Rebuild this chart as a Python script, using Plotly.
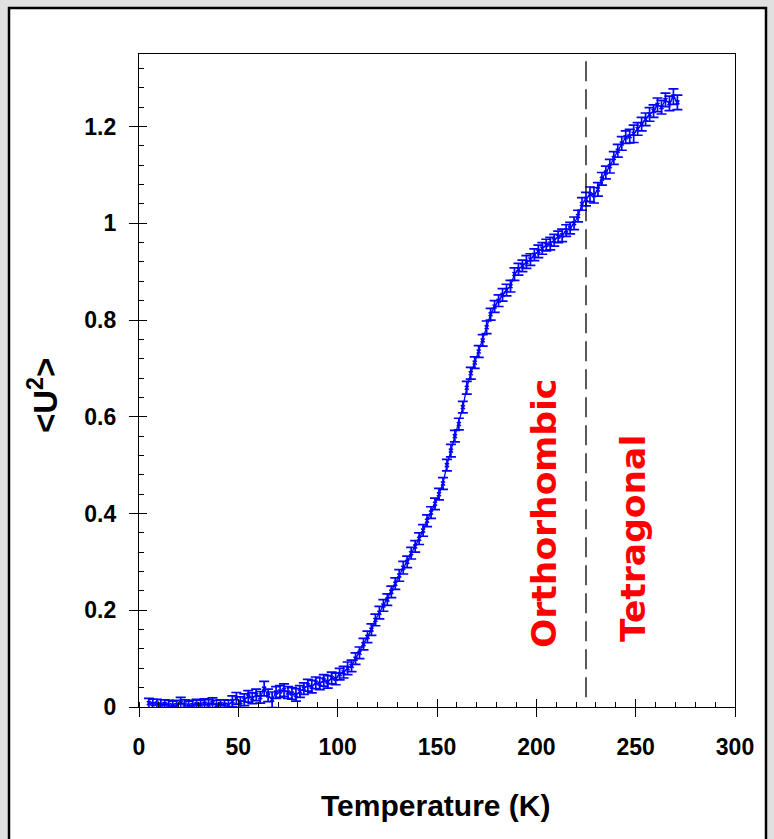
import plotly.graph_objects as go

temperature = [5, 7, 9, 11, 13, 15, 17, 19, 21, 23, 25, 27, 29, 31, 33, 35, 37, 39, 41, 43,
               45, 47, 49, 51, 53, 55, 57, 59, 61, 63, 65, 67, 69, 71, 73, 75, 77, 79, 81, 83,
               85, 87, 89, 91, 93, 95, 97, 99, 101, 103, 105, 107, 109, 111, 113, 115, 117, 119, 121, 123,
               125, 127, 129, 131, 133, 135, 137, 139, 141, 143, 145, 147, 149, 151, 153, 155, 157, 159, 161, 163,
               165, 167, 169, 171, 173, 175, 177, 179, 181, 183, 185, 187, 189, 191, 193, 195, 197, 199, 201, 203,
               205, 207, 209, 211, 213, 215, 217, 219, 221, 223, 225, 227, 229, 231, 233, 235, 237, 239, 241, 243,
               245, 247, 249, 251, 253, 255, 257, 259, 261, 263, 265, 267, 269, 271]

u2 = [0.008, 0.006, 0.007, 0.005, 0.006, 0.004, 0.003, 0.004, 0.009, 0.005,
      0.003, 0.004, 0.006, 0.005, 0.007, 0.005, 0.008, 0.004, 0.006, 0.005,
      0.004, 0.012, 0.018, 0.010, 0.015, 0.022, 0.018, 0.025, 0.020, 0.038,
      0.024, 0.015, 0.030, 0.032, 0.035, 0.030, 0.028, 0.025, 0.032, 0.038,
      0.045, 0.042, 0.050, 0.048, 0.055, 0.052, 0.060, 0.058, 0.068, 0.072,
      0.080, 0.085, 0.100, 0.112, 0.130, 0.145, 0.160, 0.180, 0.195, 0.210,
      0.222, 0.238, 0.255, 0.272, 0.288, 0.300, 0.318, 0.332, 0.348, 0.365,
      0.385, 0.402, 0.420, 0.440, 0.462, 0.500, 0.530, 0.560, 0.585, 0.620,
      0.660, 0.690, 0.712, 0.735, 0.758, 0.785, 0.812, 0.828, 0.840, 0.852,
      0.862, 0.870, 0.895, 0.905, 0.912, 0.920, 0.925, 0.935, 0.942, 0.948,
      0.955, 0.958, 0.965, 0.972, 0.975, 0.985, 0.990, 1.000, 1.015, 1.040,
      1.050, 1.060, 1.058, 1.070, 1.092, 1.105, 1.118, 1.135, 1.150, 1.165,
      1.178, 1.180, 1.185, 1.195, 1.205, 1.215, 1.225, 1.232, 1.245, 1.240,
      1.255, 1.248, 1.262, 1.250]

u2_err = [0.010, 0.010, 0.009, 0.010, 0.009, 0.010, 0.009, 0.010, 0.011, 0.010,
          0.009, 0.010, 0.010, 0.009, 0.010, 0.010, 0.011, 0.010, 0.009, 0.010,
          0.010, 0.011, 0.012, 0.011, 0.012, 0.012, 0.011, 0.012, 0.012, 0.015,
          0.013, 0.016, 0.012, 0.012, 0.013, 0.012, 0.012, 0.013, 0.012, 0.012,
          0.012, 0.013, 0.012, 0.012, 0.012, 0.013, 0.012, 0.012, 0.012, 0.012,
          0.013, 0.012, 0.012, 0.012, 0.012, 0.012, 0.012, 0.012, 0.013, 0.012,
          0.012, 0.012, 0.012, 0.012, 0.013, 0.012, 0.012, 0.012, 0.012, 0.012,
          0.012, 0.012, 0.012, 0.012, 0.012, 0.012, 0.013, 0.012, 0.012, 0.012,
          0.013, 0.012, 0.012, 0.012, 0.012, 0.013, 0.012, 0.012, 0.012, 0.013,
          0.012, 0.012, 0.013, 0.012, 0.012, 0.013, 0.012, 0.012, 0.013, 0.012,
          0.012, 0.013, 0.012, 0.012, 0.013, 0.012, 0.012, 0.013, 0.012, 0.013,
          0.014, 0.015, 0.016, 0.014, 0.013, 0.013, 0.014, 0.013, 0.013, 0.014,
          0.013, 0.014, 0.018, 0.013, 0.014, 0.013, 0.014, 0.013, 0.014, 0.014,
          0.014, 0.015, 0.016, 0.015]

transition_T = 225
x_ticks = [0, 50, 100, 150, 200, 250, 300]
y_ticks = [0, 0.2, 0.4, 0.6, 0.8, 1, 1.2]

BLUE = "#0000ff"
FAM = "Liberation Sans, Arial, sans-serif"
TICKFONT = dict(family=FAM, size=23, color="black", weight="bold")

fig = go.Figure()
fig.add_trace(go.Scatter(
    x=temperature, y=u2,
    mode="lines+markers",
    line=dict(color=BLUE, width=1.3),
    marker=dict(color=BLUE, size=4, symbol="x-thin", line=dict(color=BLUE, width=1.5)),
    error_y=dict(type="data", array=u2_err, color=BLUE, thickness=1.7, width=5),
    showlegend=False,
))
fig.add_trace(go.Scatter(x=[0], y=[0], xaxis="x2", yaxis="y2", mode="markers",
                         marker=dict(size=1, opacity=0), showlegend=False, hoverinfo="skip"))

W, H = 774, 839
L, R, T, B = 139, 39, 54, 132
pw, ph = W - L - R, H - T - B

def px(xp):
    return (xp - L) / pw

def py(yp):
    return (H - B - yp) / ph

fig.update_layout(
    width=W, height=H,
    margin=dict(l=L, r=R, t=T, b=B),
    paper_bgcolor="#e0e0e0",
    plot_bgcolor="white",
    xaxis=dict(range=[0, 300], tickvals=x_ticks, ticks="outside", ticklen=9, tickwidth=1.3,
               tickcolor="black", showline=True, linecolor="black", linewidth=1.3, mirror=True,
               showgrid=False, zeroline=False, tickfont=TICKFONT, ticklabelstandoff=10,
               minor=dict(dtick=10, ticks="inside", ticklen=5, tickcolor="black", tickwidth=1, showgrid=False)),
    yaxis=dict(range=[0, 1.35], tickvals=y_ticks, ticks="outside", ticklen=9, tickwidth=1.3,
               tickcolor="black", showline=True, linecolor="black", linewidth=1.3, mirror=True,
               showgrid=False, zeroline=False, tickfont=TICKFONT, ticklabelstandoff=8,
               minor=dict(dtick=0.04, tick0=0, ticks="inside", ticklen=5, tickcolor="black", tickwidth=1, showgrid=False)),
    xaxis2=dict(overlaying="x", matches="x", range=[0, 300], tickvals=x_ticks, ticks="inside", ticklen=8,
                tickwidth=1.3, tickcolor="black", showticklabels=False, showgrid=False, zeroline=False,
                anchor="y2", side="bottom"),
    yaxis2=dict(overlaying="y", matches="y", range=[0, 1.35], tickvals=y_ticks, ticks="inside", ticklen=8,
                tickwidth=1.3, tickcolor="black", showticklabels=False, showgrid=False, zeroline=False,
                anchor="x2", side="left"),
    shapes=[
        dict(type="rect", xref="paper", yref="paper", x0=px(9), x1=px(766), y0=py(845), y1=py(8),
             fillcolor="white", line=dict(color="black", width=2.5), layer="below"),
        dict(type="line", xref="x", yref="y", x0=transition_T, x1=transition_T, y0=0.02, y1=1.35,
             line=dict(color="black", width=1.3, dash="20px,8px")),
    ],
    annotations=[
        dict(text="<b>Temperature (K)</b>", xref="paper", yref="paper", x=px(435), y=py(805),
             showarrow=False, font=dict(family=FAM, size=30, color="black"),
             xanchor="center", yanchor="middle"),
        dict(text="<b>&lt;U<sup>2</sup>&gt;</b>", xref="paper", yref="paper", x=px(43), y=py(396),
             textangle=-90, showarrow=False, font=dict(family=FAM, size=33, color="black"),
             xanchor="center", yanchor="middle"),
        dict(text="<b>Orthorhombic</b>", xref="paper", yref="paper", x=px(544), y=py(514),
             textangle=-90, showarrow=False, font=dict(family="DejaVu Sans", size=34.5, color="#ff0000"),
             xanchor="center", yanchor="middle"),
        dict(text="<b>Tetragonal</b>", xref="paper", yref="paper", x=px(633), y=py(539),
             textangle=-90, showarrow=False, font=dict(family="DejaVu Sans", size=34.5, color="#ff0000"),
             xanchor="center", yanchor="middle"),
    ],
)

fig.write_html("out.html")
